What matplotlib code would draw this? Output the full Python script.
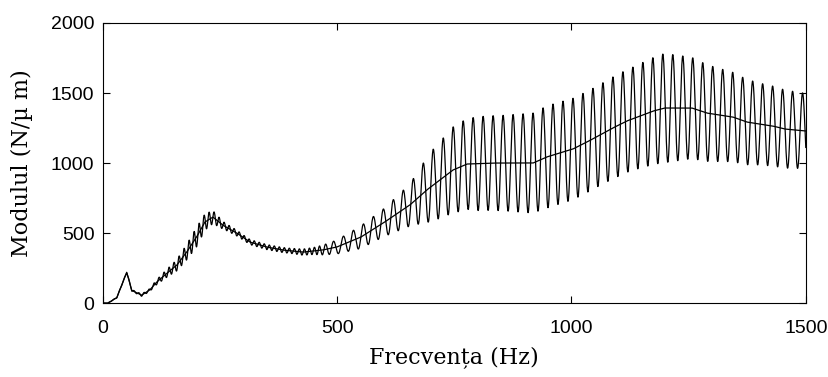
import numpy as np
import matplotlib
matplotlib.use("Agg")
import matplotlib.pyplot as plt

# smooth curve
mean_f = [0, 11, 30, 51, 62, 83, 100, 115, 137, 158, 179, 200, 218, 235, 256, 286, 314, 350,
          384, 427, 469, 499, 550, 598, 655, 691, 747, 777, 832, 918, 947, 1003, 1033, 1088,
          1118, 1174, 1199, 1257, 1289, 1344, 1374, 1430, 1455, 1500]
mean_v = [0, 0, 40, 220, 90, 57, 93, 150, 214, 271, 364, 471, 579, 614, 557, 500, 436, 400,
          379, 364, 379, 400, 470, 571, 700, 807, 950, 993, 1000, 1000, 1043, 1100, 1150, 1250,
          1300, 1371, 1393, 1393, 1357, 1329, 1293, 1264, 1243, 1229]

# half peak-to-peak of the oscillating curve
amp_f = [0, 100, 150, 200, 230, 260, 300, 400, 450, 500, 550, 600, 655, 700, 750, 800, 850,
         950, 1050, 1130, 1200, 1300, 1400, 1500]
amp_v = [0, 10, 35, 70, 50, 25, 18, 18, 25, 50, 80, 100, 150, 250, 310, 335, 340,
         365, 360, 368, 390, 340, 293, 268]

# spacing of the oscillation peaks (Hz)
per_f = [0, 460, 500, 1500]
per_v = [10.7, 10.7, 21.3, 21.3]

f = np.arange(0, 1500.25, 0.5)
m = np.interp(f, mean_f, mean_v)
a = np.interp(f, amp_f, amp_v)
p = np.interp(f, per_f, per_v)
phase = np.cumsum(2 * np.pi * 0.5 / p)
osc = m + a * np.sin(phase)

fig = plt.figure(figsize=(8.29, 3.77), dpi=100)
ax = fig.add_axes([0.124, 0.196, 0.848, 0.743])
ax.plot(f, osc, color="black", lw=0.9)
ax.plot(f, m, color="black", lw=0.9)

ax.set_xlim(0, 1500)
ax.set_ylim(0, 2000)
ax.set_xticks([0, 500, 1000, 1500])
ax.set_yticks([0, 500, 1000, 1500, 2000])
ax.tick_params(direction="in", top=True, right=True, length=5, width=0.8, labelsize=14)
ax.tick_params(axis="x", pad=12)
ax.tick_params(axis="y", pad=6)
for lab in ax.get_xticklabels() + ax.get_yticklabels():
    lab.set_fontfamily("Liberation Sans")
for s in ax.spines.values():
    s.set_linewidth(0.8)

ax.set_xlabel("Frecvența (Hz)", fontfamily="DejaVu Serif", fontsize=16, labelpad=7)
ax.set_ylabel("Modulul (N/µ m)", fontfamily="DejaVu Serif", fontsize=16, labelpad=13)

fig.savefig("out.png", dpi=100)
